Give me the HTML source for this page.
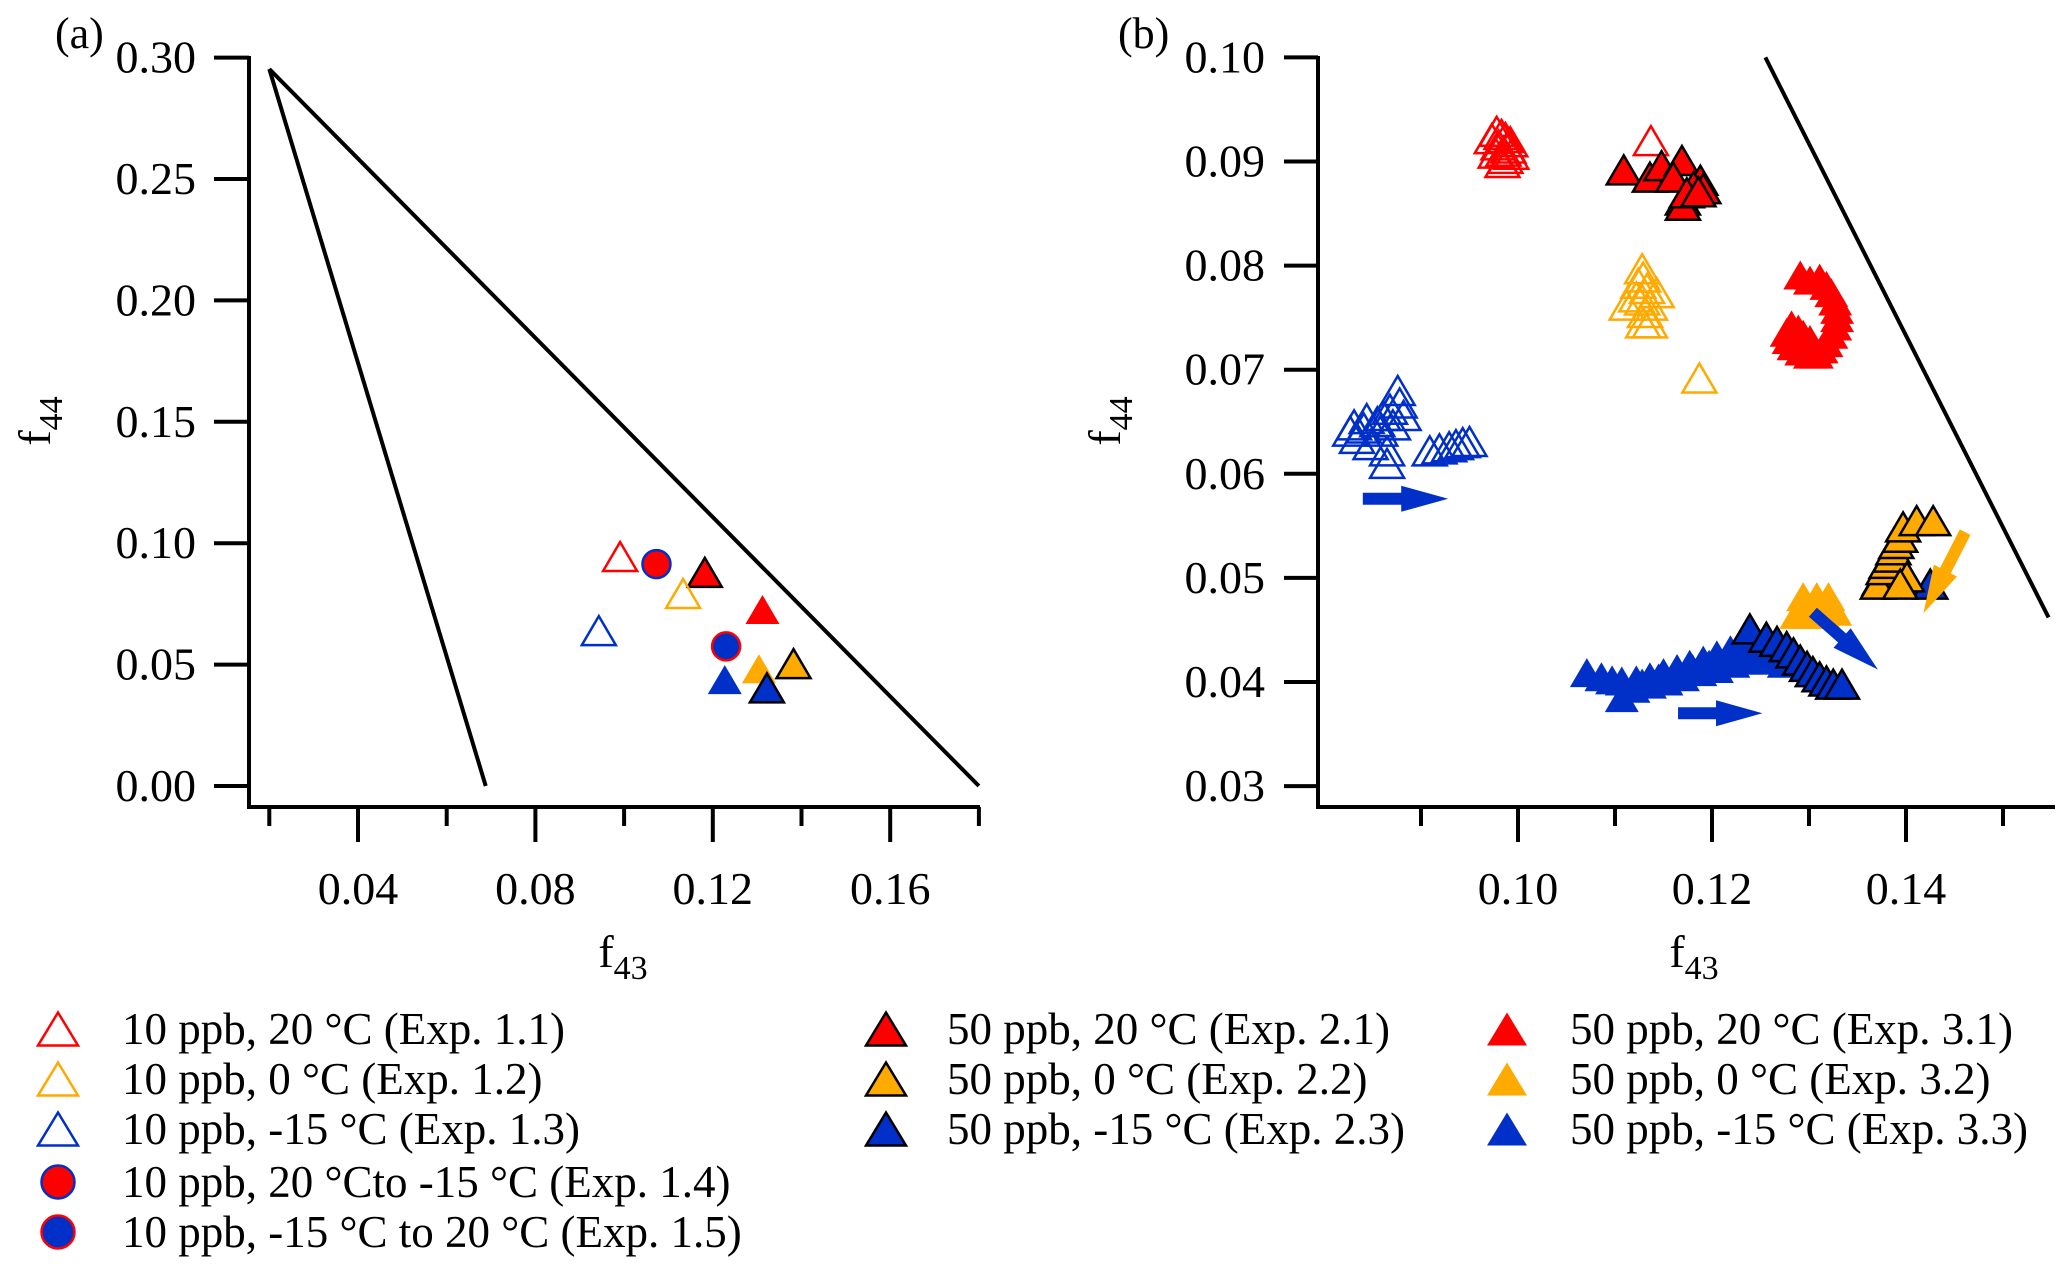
<!DOCTYPE html>
<html><head><meta charset="utf-8"><style>
html,body{margin:0;padding:0;background:#fff;}
svg{display:block;font-family:"Liberation Serif",serif;}
</style></head><body>
<svg id="fig" width="2067" height="1267" viewBox="0 0 2067 1267" xmlns="http://www.w3.org/2000/svg">
<rect width="2067" height="1267" fill="#fff"/>
<g id="pa"></g>
<g id="pb"></g>
<g id="leg"></g>
</svg>
<script>
const RED="#ff0000", ORG="#ffaa00", BLU="#0030c8";
// Panel (a) data: [f43, f44]
const aE11=[[0.0991,0.0945]];
const aE14=[[0.1073,0.0914]];
const aE21=[[0.1182,0.0880]];
const aE12=[[0.1133,0.0793]];
const aE31=[[0.1312,0.0727]];
const aE13=[[0.0943,0.0640]];
const aE15=[[0.1230,0.0575]];
const aE32=[[0.1304,0.0483]];
const aE22=[[0.1382,0.0504]];
const aE33=[[0.1227,0.0438]];
const aE23=[[0.1322,0.0404]];
const aLines=[[[0.02,0.2953],[0.0688,0.0]],[[0.02,0.2953],[0.18,0.0]]];
const aYTicks=[0.00,0.05,0.10,0.15,0.20,0.25,0.30];
const aYLabels=["0.00","0.05","0.10","0.15","0.20","0.25","0.30"];
const aXTicks=[0.02,0.04,0.06,0.08,0.10,0.12,0.14,0.16,0.18];
const aXMajor=[0.04,0.08,0.12,0.16];
const aXLabels=["0.04","0.08","0.12","0.16"];
// Panel (b) data
const bE11=[[0.0978,0.0929],[0.0983,0.0926],[0.0987,0.0923],[0.0973,0.0922],[0.0992,0.0919],[0.0980,0.0916],[0.0990,0.0913],[0.0985,0.0910],[0.0977,0.0908],[0.0993,0.0907],[0.0987,0.0903],[0.0984,0.0899],[0.1137,0.0920]];
const bE21=[[0.1109,0.0892],[0.1136,0.0885],[0.1148,0.0896],[0.1169,0.0901],[0.1160,0.0885],[0.1188,0.0882],[0.1181,0.0876],[0.1191,0.0874],[0.1170,0.0863],[0.1170,0.0858],[0.1174,0.0870],[0.1186,0.0871]];
const bE12=[[0.1128,0.0797],[0.1129,0.0789],[0.1124,0.0783],[0.1133,0.0778],[0.1143,0.0774],[0.1122,0.0770],[0.1128,0.0767],[0.1112,0.0762],[0.1136,0.0762],[0.1131,0.0755],[0.1136,0.0745],[0.1129,0.0745],[0.1187,0.0692]];
const bE31=[[0.1291,0.0791],[0.1301,0.0786],[0.1311,0.0788],[0.1318,0.0781],[0.1323,0.0774],[0.1327,0.0766],[0.1329,0.0758],[0.1329,0.0750],[0.1327,0.0742],[0.1323,0.0734],[0.1318,0.0726],[0.1313,0.0720],[0.1308,0.0715],[0.1301,0.0715],[0.1292,0.0718],[0.1284,0.0723],[0.1279,0.0729],[0.1277,0.0736],[0.1282,0.0743],[0.1289,0.0739],[0.1294,0.0734],[0.1301,0.0729]];
const bE13=[[0.0831,0.0647],[0.0841,0.0644],[0.0855,0.0650],[0.0861,0.0656],[0.0868,0.0662],[0.0878,0.0668],[0.0834,0.0634],[0.0848,0.0628],[0.0865,0.0622],[0.0858,0.0641],[0.0871,0.0647],[0.0882,0.0656],[0.0827,0.0641],[0.0844,0.0653],[0.0865,0.0610],[0.0876,0.0680],[0.0909,0.0622],[0.0919,0.0624],[0.0929,0.0626],[0.0936,0.0628],[0.0943,0.0630],[0.0950,0.0631]];
const bE33=[[0.1071,0.0409],[0.1086,0.0405],[0.1097,0.0402],[0.1107,0.0401],[0.1107,0.0385],[0.1122,0.0402],[0.1136,0.0405],[0.1150,0.0409],[0.1164,0.0413],[0.1177,0.0417],[0.1191,0.0421],[0.1205,0.0426],[0.1219,0.0431],[0.1232,0.0434],[0.1246,0.0437],[0.1256,0.0434],[0.1267,0.0429],[0.1274,0.0424],[0.1119,0.0394],[0.1136,0.0398],[0.1153,0.0401],[0.1170,0.0405],[0.1188,0.0410],[0.1205,0.0413],[0.1222,0.0418],[0.1239,0.0421],[0.1256,0.0421],[0.1274,0.0418],[0.1128,0.0399],[0.1145,0.0404],[0.1162,0.0408],[0.1180,0.0413],[0.1197,0.0417],[0.1214,0.0422],[0.1230,0.0427],[0.1248,0.0429],[0.1264,0.0425]];
const bE23=[[0.1239,0.0451],[0.1256,0.0443],[0.1267,0.0439],[0.1277,0.0434],[0.1284,0.0428],[0.1291,0.0421],[0.1298,0.0415],[0.1304,0.0410],[0.1311,0.0405],[0.1318,0.0401],[0.1325,0.0398],[0.1334,0.0398],[0.1425,0.0494]];
const bE32=[[0.1294,0.0482],[0.1308,0.0482],[0.1320,0.0482],[0.1287,0.0465],[0.1301,0.0465],[0.1315,0.0465],[0.1327,0.0468]];
const bE22=[[0.1373,0.0498],[0.1371,0.0494],[0.1377,0.0508],[0.1380,0.0514],[0.1384,0.0520],[0.1387,0.0527],[0.1390,0.0533],[0.1394,0.0539],[0.1397,0.0549],[0.1411,0.0555],[0.1428,0.0555],[0.1401,0.0501],[0.1394,0.0494]];
const bLine=[[0.1255,0.10],[0.1547,0.0462]];
const bArrowStart=[[0.0840,0.0576],[0.1165,0.0370],[0.1304,0.0467],[0.1461,0.0544]];
const bArrowEnd=[[0.0928,0.0576],[0.1252,0.0370],[0.1371,0.0412],[0.1418,0.0466]];
const bArrowColor=[BLU,BLU,BLU,ORG];
const bYTicks=[0.03,0.04,0.05,0.06,0.07,0.08,0.09,0.10];
const bYLabels=["0.03","0.04","0.05","0.06","0.07","0.08","0.09","0.10"];
const bXTicks=[0.09,0.10,0.11,0.12,0.13,0.14,0.15];
const bXMajor=[0.10,0.12,0.14];
const bXLabels=["0.10","0.12","0.14"];

const NS="http://www.w3.org/2000/svg";
function mk(parent,tag,attrs,text){const e=document.createElementNS(NS,tag);for(const k in attrs)e.setAttribute(k,attrs[k]);if(text!==undefined)e.textContent=text;parent.appendChild(e);return e;}
const ax=f=>269.3+(f-0.02)*4435, ay=f=>786-f*2428;
const bx=f=>1518+(f-0.10)*9700, by=f=>57.4+(0.10-f)*10410;

function tri(g,cx,cy,w,h,fill,stroke,sw,name){
  const p=mk(g,'polygon',{points:`${cx},${cy-h/2} ${cx-w/2},${cy+h/2} ${cx+w/2},${cy+h/2}`,fill:fill,stroke:stroke,'stroke-width':sw,'stroke-linejoin':'miter'});
  
  
  return p;
}
function circ(g,cx,cy,r,fill,stroke,name){
  const c=mk(g,'circle',{cx:cx,cy:cy,r:r,fill:fill,stroke:stroke,'stroke-width':2.5});
  
  
}
const styles={
 E11:['none',RED,2.5],E12:['none',ORG,2.5],E13:['none',BLU,2.5],
 E21:[RED,'#000',2.5],E22:[ORG,'#000',2.5],E23:[BLU,'#000',2.5],
 E31:[RED,'none',0],E32:[ORG,'none',0],E33:[BLU,'none',0]};
function series(g,data,key,X,Y,name){
  const s=styles[key];
  const sg=mk(g,'g',{});
  
  
  data.forEach(d=>tri(sg,X(d[0]),Y(d[1]),34,29,s[0],s[1],s[2],'marker-point'));
}
function ftitle(g,x,y,sub,rot,name){
  const t=mk(g,'text',{x:x,y:y,'font-size':46,'text-anchor':'middle',transform:rot?`rotate(-90 ${x} ${y})`:''});
  
  
  mk(t,'tspan',{},'f');
  mk(t,'tspan',{'font-size':34,dy:12},sub);
}

// ---------- Panel A ----------
const A=document.getElementById('pa');
mk(A,'line',{x1:249,y1:56,x2:249,y2:809,stroke:'#000','stroke-width':4});
mk(A,'line',{x1:247,y1:807,x2:980,y2:807,stroke:'#000','stroke-width':4});
aYTicks.forEach((v,i)=>{
  const l=mk(A,'line',{x1:214,y1:ay(v),x2:249,y2:ay(v),stroke:'#000','stroke-width':4});
  
  const t=mk(A,'text',{x:196,y:ay(v)+15,'font-size':46,'text-anchor':'end'},aYLabels[i]);
  
  
});
aXTicks.forEach(v=>{
  const major=aXMajor.some(m=>Math.abs(m-v)<1e-9);
  const l=mk(A,'line',{x1:ax(v),y1:807,x2:ax(v),y2:major?842:826,stroke:'#000','stroke-width':4});
  
});
aXMajor.forEach((v,i)=>{
  const t=mk(A,'text',{x:ax(v),y:904,'font-size':46,'text-anchor':'middle'},aXLabels[i]);
  
  
});
aLines.forEach(L=>{
  const l=mk(A,'line',{x1:ax(L[0][0]),y1:ay(L[0][1]),x2:ax(L[1][0]),y2:ay(L[1][1]),stroke:'#000','stroke-width':4});
  
});
series(A,aE11,'E11',ax,ay,'a-exp-1-1');
circ(A,ax(aE14[0][0]),ay(aE14[0][1]),14,RED,BLU,'a-exp-1-4');
series(A,aE21,'E21',ax,ay,'a-exp-2-1');
series(A,aE12,'E12',ax,ay,'a-exp-1-2');
series(A,aE31,'E31',ax,ay,'a-exp-3-1');
series(A,aE13,'E13',ax,ay,'a-exp-1-3');
circ(A,ax(aE15[0][0]),ay(aE15[0][1]),14,BLU,RED,'a-exp-1-5');
series(A,aE32,'E32',ax,ay,'a-exp-3-2');
series(A,aE22,'E22',ax,ay,'a-exp-2-2');
series(A,aE33,'E33',ax,ay,'a-exp-3-3');
series(A,aE23,'E23',ax,ay,'a-exp-2-3');
ftitle(A,623,967,'43',false,'a-x-axis-title');
ftitle(A,50,421,'44',true,'a-y-axis-title');
const la=mk(A,'text',{x:55,y:48,'font-size':44},'(a)');



// ---------- Panel B ----------
const B=document.getElementById('pb');
mk(B,'line',{x1:1318,y1:56,x2:1318,y2:809,stroke:'#000','stroke-width':4});
mk(B,'line',{x1:1316,y1:807,x2:2055,y2:807,stroke:'#000','stroke-width':4});
bYTicks.forEach((v,i)=>{
  const l=mk(B,'line',{x1:1284,y1:by(v),x2:1318,y2:by(v),stroke:'#000','stroke-width':4});
  
  const t=mk(B,'text',{x:1265,y:by(v)+15,'font-size':46,'text-anchor':'end'},bYLabels[i]);
  
  
});
bXTicks.forEach(v=>{
  const major=bXMajor.some(m=>Math.abs(m-v)<1e-9);
  const l=mk(B,'line',{x1:bx(v),y1:807,x2:bx(v),y2:major?842:826,stroke:'#000','stroke-width':4});
  
});
bXMajor.forEach((v,i)=>{
  const t=mk(B,'text',{x:bx(v),y:904,'font-size':46,'text-anchor':'middle'},bXLabels[i]);
  
  
});
const bl=mk(B,'line',{x1:bx(bLine[0][0]),y1:by(bLine[0][1]),x2:bx(bLine[1][0]),y2:by(bLine[1][1]),stroke:'#000','stroke-width':4});

series(B,bE11,'E11',bx,by,'b-exp-1-1');
series(B,bE21,'E21',bx,by,'b-exp-2-1');
series(B,bE12,'E12',bx,by,'b-exp-1-2');
series(B,bE31,'E31',bx,by,'b-exp-3-1');
series(B,bE13,'E13',bx,by,'b-exp-1-3');
series(B,bE33,'E33',bx,by,'b-exp-3-3');
series(B,bE23,'E23',bx,by,'b-exp-2-3');
series(B,bE32,'E32',bx,by,'b-exp-3-2');
series(B,bE22,'E22',bx,by,'b-exp-2-2');
bArrowStart.forEach((s,i)=>{
  const x1=bx(s[0]),y1=by(s[1]),x2=bx(bArrowEnd[i][0]),y2=by(bArrowEnd[i][1]);
  const L=Math.hypot(x2-x1,y2-y1),ux=(x2-x1)/L,uy=(y2-y1)/L,nx=-uy,ny=ux;
  const hl=Math.min(48,L*0.55),sw=6,hw=13;
  const bxp=x2-ux*hl,byp=y2-uy*hl;
  const pts=[[x1+nx*sw,y1+ny*sw],[bxp+nx*sw,byp+ny*sw],[bxp+nx*hw,byp+ny*hw],[x2,y2],[bxp-nx*hw,byp-ny*hw],[bxp-nx*sw,byp-ny*sw],[x1-nx*sw,y1-ny*sw]];
  const p=mk(B,'polygon',{points:pts.map(q=>q.join(',')).join(' '),fill:bArrowColor[i]});
  
  
});
ftitle(B,1694,967,'43',false,'b-x-axis-title');
ftitle(B,1120,421,'44',true,'b-y-axis-title');
const lb=mk(B,'text',{x:1118,y:48,'font-size':44},'(b)');



// ---------- Legend ----------
const G=document.getElementById('leg');
const legLabels=["10 ppb, 20 °C (Exp. 1.1)","10 ppb, 0 °C (Exp. 1.2)","10 ppb, -15 °C (Exp. 1.3)","10 ppb, 20 °Cto -15 °C (Exp. 1.4)","10 ppb, -15 °C to 20 °C (Exp. 1.5)",
 "50 ppb, 20 °C (Exp. 2.1)","50 ppb, 0 °C (Exp. 2.2)","50 ppb, -15 °C (Exp. 2.3)",
 "50 ppb, 20 °C (Exp. 3.1)","50 ppb, 0 °C (Exp. 3.2)","50 ppb, -15 °C (Exp. 3.3)"];
const legKeys=['E11','E12','E13','C14','C15','E21','E22','E23','E31','E32','E33'];
const legCol=[0,0,0,0,0,1,1,1,2,2,2];
const legRow=[0,1,2,3,4,0,1,2,0,1,2];
const colSym=[58,886,1507], colTxt=[122,947,1570], rowY=[1029,1079,1129,1182,1232];
legKeys.forEach((k,i)=>{
  const eg=mk(G,'g',{});
  
  
  const cx=colSym[legCol[i]],cy=rowY[legRow[i]];
  if(k==='C14')circ(eg,cx,cy,16.5,RED,BLU,'legend-symbol');
  else if(k==='C15')circ(eg,cx,cy,16.5,BLU,RED,'legend-symbol');
  else{const s=styles[k];tri(eg,cx,cy,40,33,s[0],s[1],s[2],'legend-symbol');}
  const t=mk(eg,'text',{x:colTxt[legCol[i]],y:cy+15,'font-size':45},legLabels[i]);
  
  
});
</script>
</body></html>
